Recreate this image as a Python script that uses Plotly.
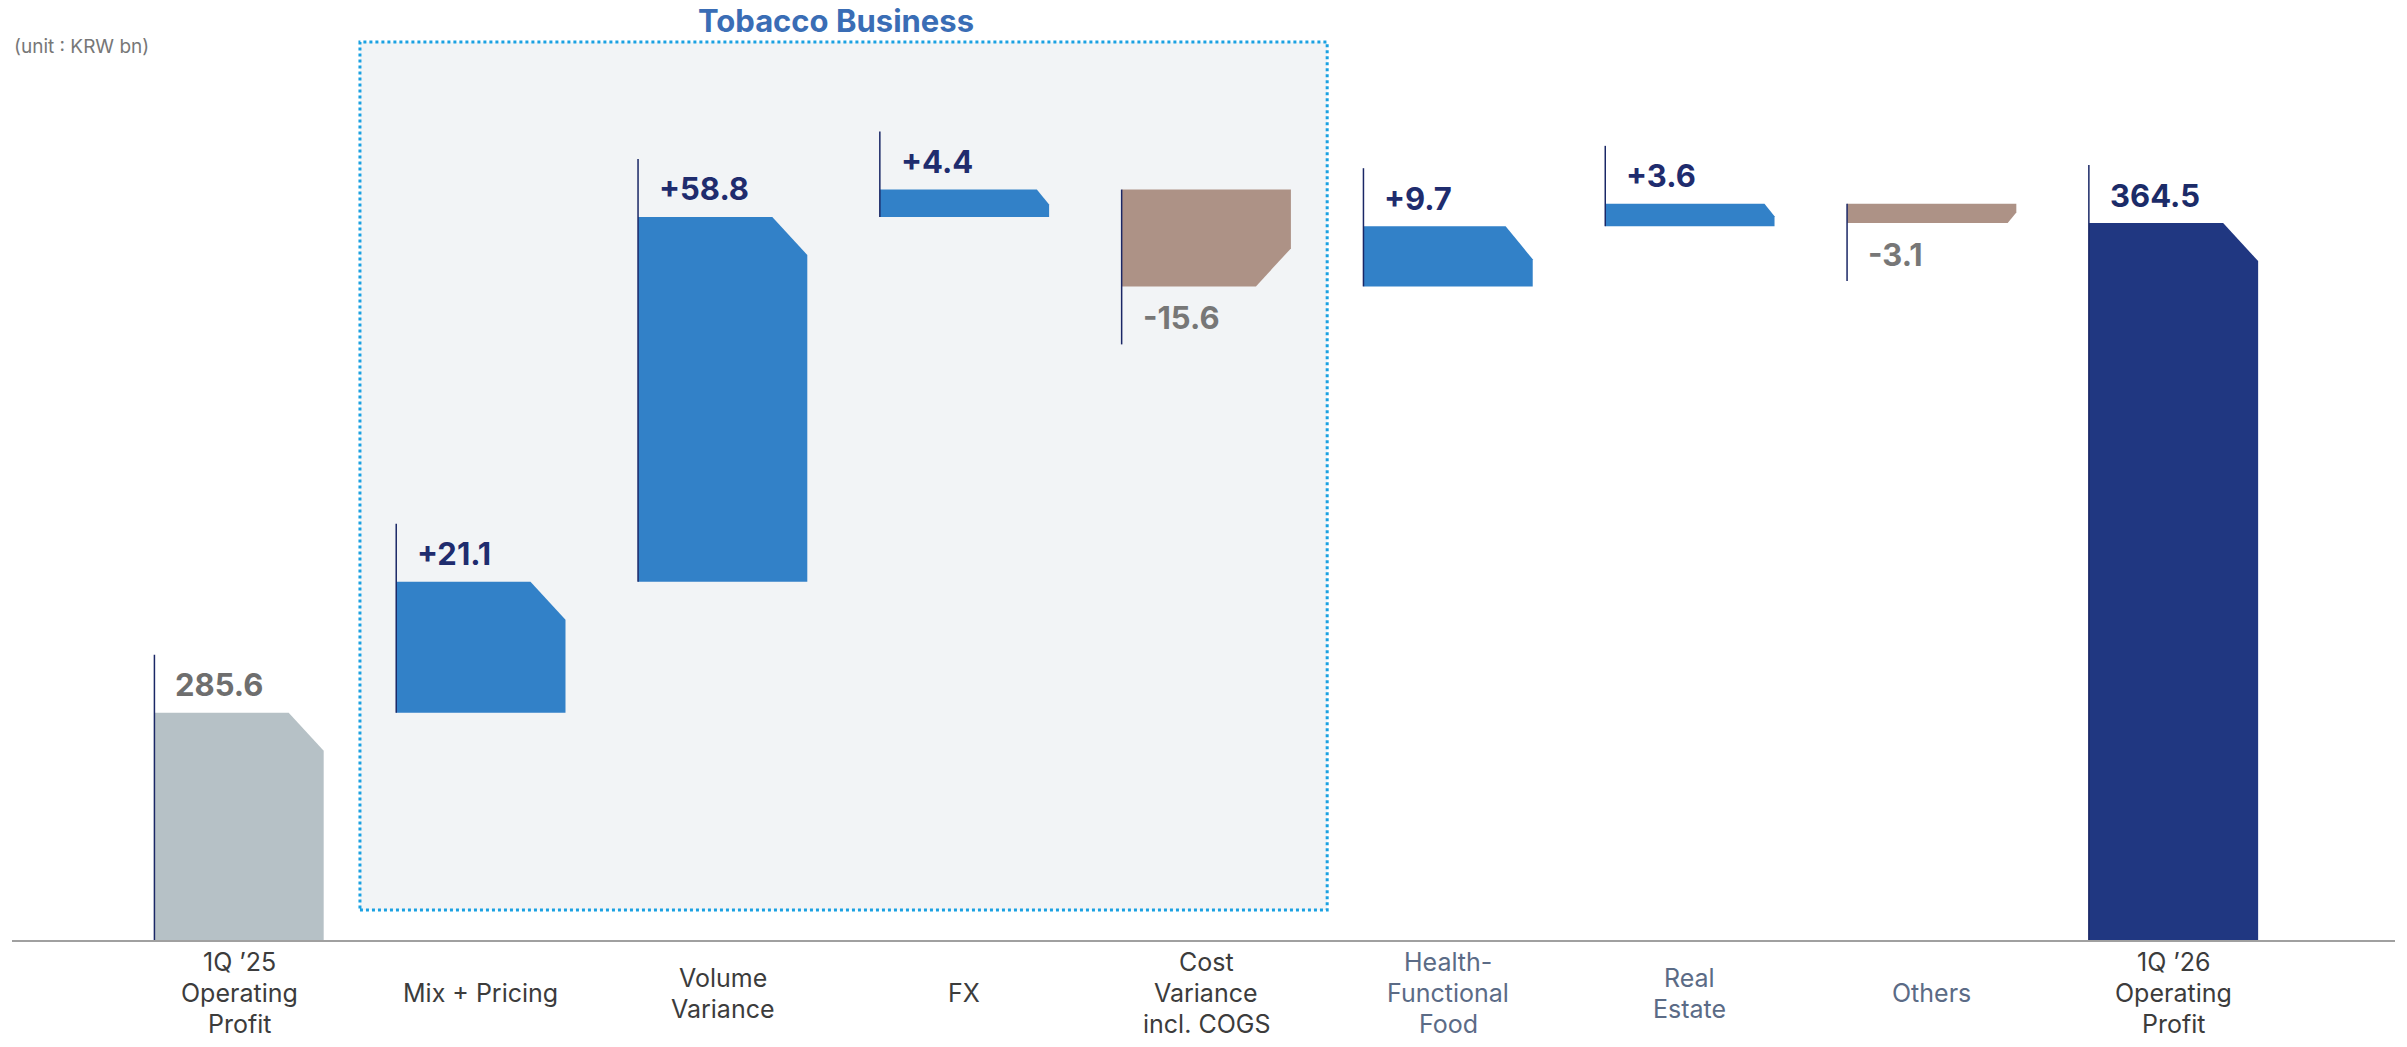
import plotly.graph_objects as go

# ---------------- data ----------------
categories = ["1Q ’25<br>Operating<br>Profit", "Mix + Pricing", "Volume<br>Variance", "FX",
              "Cost<br>Variance<br>incl. COGS", "Health-<br>Functional<br>Food", "Real<br>Estate",
              "Others", "1Q ’26<br>Operating<br>Profit"]
measures = ["absolute", "relative", "relative", "relative", "relative",
            "relative", "relative", "relative", "total"]
values = [285.6, 21.1, 58.8, 4.4, -15.6, 9.7, 3.6, -3.1, 364.5]
label_group = ["total", "tobacco", "tobacco", "tobacco", "tobacco", "other", "other", "other", "total"]

# ---------------- layout constants ----------------
OFF = 0                      # body margin removed via post_script
W, H = 2407 - OFF, 1047 - OFF
ML, MR, MT = 12, 12, 0
plot_w = W - ML - MR
BASE_Y = 940 - OFF           # baseline in figure pixels
plot_h = BASE_Y - MT
MB = H - BASE_Y
PX_Y = 6.207                 # pixels per value unit
Y_MIN = 249.0
Y_MAX = Y_MIN + plot_h / PX_Y
X_MIN, X_MAX = -0.939, 8.916
px_y = plot_h / (Y_MAX - Y_MIN)
px_x = plot_w / (X_MAX - X_MIN)
BAR_W = 0.70

COL_START = "#B6C1C6"
COL_UP = "#3281C8"
COL_DOWN = "#AD9286"
COL_END = "#203781"
LINE_COL = "#1A2766"
FONT = "Inter, Roboto, sans-serif"


def fig_paper_y(page_y):
    return 1 - (page_y - OFF - MT) / plot_h


fig = go.Figure()

running = 0.0
bars = []
for i, (m, v) in enumerate(zip(measures, values)):
    if m in ("absolute", "total"):
        lo, hi = 0.0, v
        running = v
        kind = "start" if m == "absolute" else "end"
    else:
        prev = running
        running = prev + v
        lo, hi = min(prev, running), max(prev, running)
        kind = "up" if v >= 0 else "down"
    bars.append((i, lo, hi, kind, v))

annotations = []
for i, lo, hi, kind, v in bars:
    L, R = i - BAR_W / 2, i + BAR_W / 2
    h_px = (hi - max(lo, Y_MIN)) * px_y
    cy = min(38, 0.55 * h_px) / px_y
    cx = min(35, 0.45 * h_px) / px_x
    color = {"start": COL_START, "up": COL_UP, "down": COL_DOWN, "end": COL_END}[kind]
    if kind == "down":
        xs = [L, R, R, R - cx, L, L]
        ys = [hi, hi, lo + cy, lo, lo, hi]
    else:
        xs = [L, L, R - cx, R, R, L]
        ys = [lo, hi, hi, hi - cy, lo, lo]
    fig.add_trace(go.Scatter(x=xs, y=ys, fill="toself", fillcolor=color, mode="lines",
                             line=dict(width=0, color=color), hoverinfo="skip", showlegend=False))
    ext = 58 / px_y
    ly = [hi, lo - ext] if kind == "down" else [lo, hi + ext]
    fig.add_trace(go.Scatter(x=[L, L], y=ly, mode="lines", line=dict(color=LINE_COL, width=1.5),
                             hoverinfo="skip", showlegend=False))
    if kind == "start":
        txt, tcol = f"{v:.1f}", "#6E6E6E"
    elif kind == "end":
        txt, tcol = f"{v:.1f}", "#1B2B68"
    elif kind == "up":
        txt, tcol = f"+{v:.1f}", "#1F2C6E"
    else:
        txt, tcol = f"{v:.1f}", "#777777"
    annotations.append(dict(x=L, y=(lo if kind == "down" else hi), xref="x", yref="y",
                            text=f"<b>{txt}</b>", showarrow=False, xanchor="left", yanchor="middle",
                            xshift=19, yshift=(-31 if kind == "down" else 28),
                            font=dict(family=FONT, size=31, color=tcol)))

# category labels, one annotation per line for tight line spacing
LINE_GAP = 31
for i, (c, g) in enumerate(zip(categories, label_group)):
    col = "#5B6B86" if g == "other" else "#3C3C3C"
    lines = c.split("<br>")
    n = len(lines)
    for j, line in enumerate(lines):
        annotations.append(dict(x=i, y=fig_paper_y(993), xref="x", yref="paper", text=line,
                                showarrow=False, xanchor="center", yanchor="middle",
                                yshift=((n - 1) / 2 - j) * LINE_GAP,
                                font=dict(family=FONT, size=25, color=col)))

annotations.append(dict(x=2.47, y=fig_paper_y(21), xref="x", yref="paper",
                        text="<b>Tobacco Business</b>", showarrow=False, xanchor="center",
                        yanchor="middle", font=dict(family=FONT, size=31, color="#3A6DB5")))
annotations.append(dict(x=0, y=fig_paper_y(46), xref="paper", yref="paper", text="(unit : KRW bn)",
                        showarrow=False, xanchor="left", yanchor="middle",
                        font=dict(family=FONT, size=19, color="#777777")))

shapes = [dict(type="rect", xref="x", yref="paper", x0=0.5, x1=4.5,
               y0=fig_paper_y(910), y1=fig_paper_y(42), fillcolor="#F2F4F6",
               line=dict(color="#1BA1E2", width=3, dash="dot"), layer="below")]

fig.update_layout(
    width=W, height=H,
    margin=dict(l=ML, r=MR, t=MT, b=MB),
    plot_bgcolor="white", paper_bgcolor="white",
    showlegend=False,
    annotations=annotations,
    shapes=shapes,
    xaxis=dict(range=[X_MIN, X_MAX], showgrid=False, zeroline=False, showline=True,
               linecolor="#A0A0A0", linewidth=2, tickvals=list(range(len(categories))),
               ticktext=[""] * len(categories), ticks="", fixedrange=True),
    yaxis=dict(range=[Y_MIN, Y_MAX], showgrid=False, zeroline=False, showline=False,
               showticklabels=False, ticks="", fixedrange=True),
)

fig.write_html("out.html", config={"displayModeBar": False},
               post_script="document.body.style.margin='0px';")
